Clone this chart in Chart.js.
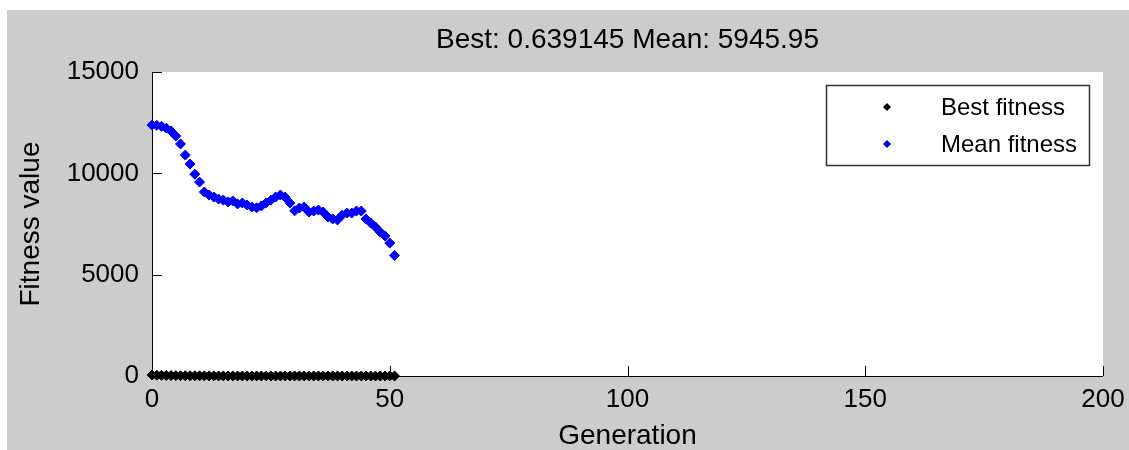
<!DOCTYPE html>
<html><head><meta charset="utf-8">
<script src="https://cdn.jsdelivr.net/npm/chart.js@4.4.1/dist/chart.umd.min.js"></script>
<style>html,body{margin:0;padding:0;background:#fff;} #wrap{width:1129px;height:450px;position:relative}</style>
</head><body><div id="wrap"><canvas id="c" width="1129" height="450"></canvas></div>
<script>
const titleText = 'Best: 0.639145 Mean: 5945.95';
const xTitle = 'Generation';
const yTitle = 'Fitness value';
const xTicks = [0, 50, 100, 150, 200];
const yTicks = [0, 5000, 10000, 15000];
const generations = [0,1,2,3,4,5,6,7,8,9,10,11,12,13,14,15,16,17,18,19,20,21,22,23,24,25,26,27,28,29,30,31,32,33,34,35,36,37,38,39,40,41,42,43,44,45,46,47,48,49,50,51];
const meanFitness = [12380,12370,12320,12230,12090,11840,11450,10900,10460,9960,9570,9080,8930,8830,8730,8680,8590,8640,8490,8540,8440,8340,8300,8390,8540,8680,8830,8930,8830,8540,8150,8290,8340,8090,8140,8190,8090,7850,7750,7700,7940,8040,8040,8140,8140,7750,7550,7350,7100,6910,6560,5945.95];
const bestFitness = [52.3,41.7,35.2,28.4,22.9,18.6,15.1,12.7,10.4,8.9,7.5,6.3,5.4,4.6,4.0,3.5,3.1,2.8,2.5,2.3,2.1,1.95,1.82,1.71,1.6,1.5,1.42,1.35,1.28,1.22,1.16,1.11,1.06,1.02,0.98,0.95,0.92,0.89,0.86,0.84,0.81,0.79,0.77,0.75,0.73,0.71,0.69,0.68,0.66,0.65,0.645,0.639145];

const FONT = '"Liberation Sans", Arial, sans-serif';

const pts = (ys) => generations.map((g, i) => ({x: g, y: ys[i]}));

const decor = {
  id: 'decor',
  beforeDraw(chart) {
    const {ctx, chartArea: a} = chart;
    ctx.save();
    ctx.fillStyle = '#ffffff';
    ctx.fillRect(0, 0, chart.width, chart.height);
    ctx.fillStyle = '#cccccc';
    ctx.fillRect(7, 10, chart.width - 7, chart.height - 10);
    ctx.fillStyle = '#ffffff';
    ctx.fillRect(a.left, a.top, a.right - a.left, a.bottom - a.top);
    ctx.restore();
  },
  beforeDatasetsDraw(chart) {
    const {ctx, chartArea: a, scales} = chart;
    ctx.save();
    ctx.strokeStyle = '#000000';
    ctx.lineWidth = 1;
    ctx.beginPath();
    ctx.moveTo(a.left + 0.5, a.top);
    ctx.lineTo(a.left + 0.5, a.bottom + 0.5);
    ctx.lineTo(a.right, a.bottom + 0.5);
    xTicks.forEach(v => {
      const px = Math.round(scales.x.getPixelForValue(v)) + 0.5;
      ctx.moveTo(px, a.bottom);
      ctx.lineTo(px, a.bottom - 10);
    });
    yTicks.forEach(v => {
      const py = Math.round(scales.y.getPixelForValue(v)) + 0.5;
      ctx.moveTo(a.left, py);
      ctx.lineTo(a.left + 10, py);
    });
    ctx.stroke();
    ctx.restore();
  },
  afterDraw(chart) {
    const {ctx, chartArea: a} = chart;
    ctx.save();
    ctx.fillStyle = '#000000';
    ctx.font = '28px ' + FONT;
    ctx.textAlign = 'center';
    ctx.textBaseline = 'middle';
    ctx.fillText(titleText, (a.left + a.right) / 2, 40);
    const box = {l: 826, t: 85, r: 1089, b: 165};
    ctx.fillStyle = '#ffffff';
    ctx.fillRect(box.l, box.t, box.r - box.l, box.b - box.t);
    ctx.strokeStyle = '#333333';
    ctx.lineWidth = 1.5;
    ctx.strokeRect(box.l + 0.5, box.t + 0.5, box.r - box.l, box.b - box.t);
    ctx.font = '24px ' + FONT;
    ctx.textAlign = 'left';
    const rows = [107, 144];
    chart.data.datasets.forEach((ds, i) => {
      ctx.fillStyle = ds.backgroundColor;
      ctx.strokeStyle = ds.borderColor;
      ctx.lineWidth = 1;
      ctx.beginPath();
      ctx.moveTo(887, rows[i] - 4); ctx.lineTo(891, rows[i]); ctx.lineTo(887, rows[i] + 4); ctx.lineTo(883, rows[i]); ctx.closePath();
      ctx.fill();
      ctx.fillStyle = '#000000';
      ctx.fillText(ds.label, 941, rows[i] + 1);
    });
    ctx.restore();
  }
};

new Chart(document.getElementById('c'), {
  type: 'scatter',
  data: {
    datasets: [
      {label: 'Best fitness', data: pts(bestFitness), backgroundColor: '#000000', borderColor: '#000000', pointStyle: 'rectRot', pointRadius: 5, borderWidth: 1, clip: false},
      {label: 'Mean fitness', data: pts(meanFitness), backgroundColor: '#0000ff', borderColor: '#0000ff', pointStyle: 'rectRot', pointRadius: 5, borderWidth: 1, clip: false}
    ]
  },
  options: {
    responsive: false,
    animation: false,
    devicePixelRatio: 1,
    layout: {padding: {left: 7, top: 72, right: 26, bottom: 0}},
    plugins: {legend: {display: false}, title: {display: false}, tooltip: {enabled: false}},
    scales: {
      x: {
        type: 'linear', min: 0, max: 200,
        afterFit(s) { s.height = 74; s.paddingRight = 0; s.paddingLeft = 0; },
        afterBuildTicks(s) { s.ticks = xTicks.map(v => ({value: v})); },
        grid: {display: false, drawTicks: false},
        border: {display: false},
        ticks: {color: '#000000', font: {family: FONT, size: 26}, padding: 8, maxRotation: 0, callback: v => String(v)},
        title: {display: true, text: xTitle, color: '#000000', font: {family: FONT, size: 28, lineHeight: 1}, padding: {top: 0, bottom: 0}}
      },
      y: {
        type: 'linear', min: 0, max: 15000,
        afterFit(s) { s.width = 145; s.paddingTop = 0; s.paddingBottom = 0; },
        afterBuildTicks(s) { s.ticks = yTicks.map(v => ({value: v})); },
        grid: {display: false, drawTicks: false},
        border: {display: false},
        ticks: {color: '#000000', font: {family: FONT, size: 26}, padding: 13, callback: v => String(v)},
        title: {display: true, text: yTitle, color: '#000000', font: {family: FONT, size: 28, lineHeight: 1}, padding: {top: 10, bottom: 0}}
      }
    }
  },
  plugins: [decor]
});
</script></body></html>
